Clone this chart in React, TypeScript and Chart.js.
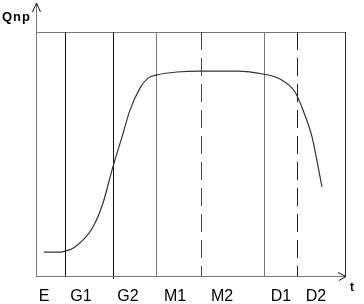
import React, { useEffect, useRef } from "react";
import { Chart, registerables } from "chart.js";

Chart.register(...registerables);

// Data (time units along t, Q in % of the box height)
const curveT = [8, 24, 29, 39, 57, 67, 76, 86, 94, 104, 112, 121, 141, 164, 201, 227, 244, 259, 267, 276, 286];
const curveQ = [9.8, 9.8, 10.2, 11.9, 20.1, 29.9, 43.4, 57.0, 68.0, 77.0, 81.1, 82.4, 83.6, 84.0, 84.0, 82.8, 80.7, 75.4, 68.0, 57.0, 36.5];
const phaseBounds = [29, 77, 120, 165, 228, 261, 309];
const phaseLabels = ["E", "G1", "G2", "M1", "M2", "D1", "D2"];
const phaseLabelT = [8, 45, 92, 139, 186, 245, 280];
const tMax = 309;
const qMax = 100;
const yAxisTitle = "Qnp";
const xAxisTitle = "t";

const FONT = "'Liberation Sans', Arial, sans-serif";

const boundStyle = [
  { color: "#111", dash: [] as number[], ext: 0 },
  { color: "#111", dash: [], ext: 3 },
  { color: "#777", dash: [], ext: 0 },
  { color: "#444", dash: [18, 8], ext: 0 },
  { color: "#777", dash: [], ext: 0 },
  { color: "#222", dash: [18, 8], ext: 0 },
  { color: "#333", dash: [], ext: 0 },
];

const framePlugin = {
  id: "frame",
  beforeDatasetsDraw(chart: any) {
    const { ctx, scales } = chart;
    const xs = scales.x;
    const ys = scales.y;
    const top = ys.getPixelForValue(qMax);
    const bottom = ys.getPixelForValue(0);
    const left = xs.getPixelForValue(0);
    const right = xs.getPixelForValue(tMax);
    ctx.save();
    ctx.lineWidth = 1;
    ctx.strokeStyle = "#777";
    ctx.beginPath();
    ctx.moveTo(left, Math.round(top) + 0.5);
    ctx.lineTo(right, Math.round(top) + 0.5);
    ctx.stroke();
    phaseBounds.forEach((b, i) => {
      const st = boundStyle[i];
      const x = Math.round(xs.getPixelForValue(b)) + 0.5;
      ctx.strokeStyle = st.color;
      ctx.setLineDash(st.dash);
      ctx.beginPath();
      ctx.moveTo(x, top);
      ctx.lineTo(x, bottom + st.ext);
      ctx.stroke();
    });
    ctx.setLineDash([]);
    ctx.strokeStyle = "#777";
    const ax = Math.round(left) + 0.5;
    const ay = Math.round(bottom) + 0.5;
    ctx.beginPath();
    ctx.moveTo(ax, ay);
    ctx.lineTo(ax, 3);
    ctx.moveTo(ax, ay);
    ctx.lineTo(right + 1, ay);
    ctx.stroke();
    ctx.strokeStyle = "#111";
    ctx.beginPath();
    ctx.moveTo(ax - 4, 12);
    ctx.lineTo(ax, 3);
    ctx.lineTo(ax + 4, 12);
    ctx.moveTo(right - 7, ay - 4);
    ctx.lineTo(right + 1, ay);
    ctx.lineTo(right - 6, ay + 4);
    ctx.stroke();
    ctx.restore();
  },
  afterDraw(chart: any) {
    const { ctx, scales } = chart;
    const xs = scales.x;
    const ys = scales.y;
    const bottom = ys.getPixelForValue(0);
    const right = xs.getPixelForValue(tMax);
    ctx.save();
    ctx.fillStyle = "#000";
    ctx.textBaseline = "alphabetic";
    ctx.textAlign = "center";
    ctx.font = `16px ${FONT}`;
    phaseLabels.forEach((lab, i) => {
      ctx.fillText(lab, xs.getPixelForValue(phaseLabelT[i]), bottom + 25);
    });
    ctx.textAlign = "left";
    ctx.font = `bold 13px ${FONT}`;
    try { (ctx as any).letterSpacing = "1px"; } catch (e) {}
    ctx.fillText(yAxisTitle, 2, 21);
    try { (ctx as any).letterSpacing = "0px"; } catch (e) {}
    ctx.font = `bold 12px ${FONT}`;
    ctx.fillText(xAxisTitle, right + 5, bottom + 15);
    ctx.restore();
  },
};

export default function App() {
  const ref = useRef<HTMLCanvasElement>(null);
  useEffect(() => {
    document.body.style.margin = "0";
    const canvas = ref.current!;
    const chart = new Chart(canvas, {
      type: "line",
      data: {
        datasets: [
          {
            data: curveT.map((t, i) => ({ x: t, y: curveQ[i] })),
            borderColor: "#333",
            borderWidth: 1.2,
            pointRadius: 0,
            cubicInterpolationMode: "monotone",
            fill: false,
          },
        ],
      },
      options: {
        animation: false,
        responsive: false,
        devicePixelRatio: 1,
        layout: { padding: { left: 36, right: 19, top: 32, bottom: 28 } },
        plugins: { legend: { display: false }, tooltip: { enabled: false } },
        scales: {
          x: { type: "linear", min: 0, max: tMax, display: false },
          y: { type: "linear", min: 0, max: qMax, display: false },
        },
      },
      plugins: [framePlugin],
    });
    return () => chart.destroy();
  }, []);
  return (
    <div style={{ width: 364, height: 304, background: "#fff" }}>
      <canvas ref={ref} width={364} height={304} style={{ display: "block" }} />
    </div>
  );
}
